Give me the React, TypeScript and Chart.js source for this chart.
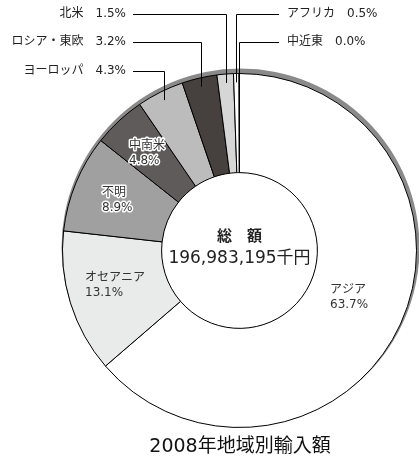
import React, { useEffect, useRef } from "react";
import { Chart, registerables } from "chart.js";

Chart.register(...registerables);

const regions = ["アジア", "オセアニア", "不明", "中南米", "ヨーロッパ", "ロシア・東欧", "北米", "アフリカ", "中近東"];
const shares = [63.7, 13.1, 8.9, 4.8, 4.3, 3.2, 1.5, 0.5, 0.04];
const colors = ["#ffffff", "#e9eaea", "#a0a0a0", "#5f5b5b", "#bcbcbc", "#46413f", "#d6d6d6", "#ffffff", "#000000"];
const totalLabel = "196,983,195千円";
const centerHeading = "総　額";
const chartTitle = "2008年地域別輸入額";

const FONT = '"DejaVu Sans", "Noto Sans CJK JP", sans-serif';

// inside labels: index -> position
const insideLabels = [
  { i: 0, x: 330, y: 290, halo: false },
  { i: 1, x: 85, y: 278, halo: false },
  { i: 2, x: 102, y: 193, halo: true },
  { i: 3, x: 129, y: 146, halo: true },
];
// outside labels with leader lines
const leftCallouts = [
  { i: 6, y: 14 },
  { i: 5, y: 42 },
  { i: 4, y: 71 },
];
const rightCallouts = [
  { i: 7, y: 14 },
  { i: 8, y: 42 },
];

const fmt = (v: number) => v.toFixed(1) + "%";

const decor = {
  id: "decor",
  beforeDatasetsDraw(chart: any) {
    const meta = chart.getDatasetMeta(0);
    const arc = meta.data[0];
    const ctx = chart.ctx;
    ctx.save();
    ctx.fillStyle = "#8a8a8a";
    ctx.beginPath();
    ctx.arc(arc.x + 1, arc.y - 3, arc.outerRadius + 2, 0, Math.PI * 2);
    ctx.fill();
    ctx.fillStyle = "#ffffff";
    ctx.beginPath();
    ctx.arc(arc.x, arc.y, arc.innerRadius, 0, Math.PI * 2);
    ctx.fill();
    ctx.restore();
  },
  afterDatasetsDraw(chart: any) {
    const meta = chart.getDatasetMeta(0);
    const ctx = chart.ctx;
    const a0 = meta.data[0];
    const cx = a0.x, cy = a0.y, R = a0.outerRadius;
    ctx.save();
    // inside labels
    ctx.font = "12px " + FONT;
    ctx.textAlign = "left";
    ctx.textBaseline = "middle";
    ctx.lineJoin = "round";
    insideLabels.forEach((l) => {
      const lines = [regions[l.i], fmt(shares[l.i])];
      lines.forEach((t, k) => {
        const y = l.y + k * 15;
        if (l.halo) {
          ctx.strokeStyle = "#ffffff";
          ctx.lineWidth = 3;
          ctx.strokeText(t, l.x, y);
        }
        ctx.fillStyle = "#333333";
        ctx.fillText(t, l.x, y);
      });
    });
    // center
    ctx.textAlign = "center";
    ctx.fillStyle = "#222222";
    ctx.font = "bold 15px " + FONT;
    ctx.fillText(centerHeading, cx, cy - 13);
    ctx.font = "17px " + FONT;
    ctx.fillText(totalLabel, cx, cy + 8);
    // callouts
    ctx.strokeStyle = "#000000";
    ctx.lineWidth = 1;
    ctx.font = "12px " + FONT;
    const anchor = (i: number) => {
      const el = meta.data[i];
      const mid = (el.startAngle + el.endAngle) / 2;
      const rr = R * 0.95;
      return { x: cx + Math.cos(mid) * rr, y: cy + Math.sin(mid) * rr };
    };
    leftCallouts.forEach((c) => {
      const p = anchor(c.i);
      const lx = Math.round(p.x) + 0.5;
      ctx.beginPath();
      ctx.moveTo(133, c.y + 0.5);
      ctx.lineTo(lx, c.y + 0.5);
      ctx.lineTo(lx, p.y);
      ctx.stroke();
      ctx.textAlign = "right";
      ctx.fillStyle = "#222222";
      ctx.fillText(regions[c.i] + "　" + fmt(shares[c.i]), 126, c.y);
    });
    rightCallouts.forEach((c) => {
      const p = anchor(c.i);
      const lx = Math.round(p.x) + 0.5;
      ctx.beginPath();
      ctx.moveTo(279, c.y + 0.5);
      ctx.lineTo(lx, c.y + 0.5);
      ctx.lineTo(lx, p.y);
      ctx.stroke();
      ctx.textAlign = "left";
      ctx.fillStyle = "#222222";
      ctx.fillText(regions[c.i] + "　" + fmt(shares[c.i]), 287, c.y);
    });
    // title
    ctx.textAlign = "center";
    ctx.fillStyle = "#111111";
    ctx.font = "19px " + FONT;
    ctx.fillText(chartTitle, 240, 447);
    ctx.restore();
  },
};

export default function App() {
  const ref = useRef<HTMLCanvasElement>(null);
  useEffect(() => {
    document.body.style.margin = "0";
    const chart = new Chart(ref.current!, {
      type: "doughnut",
      data: {
        labels: regions,
        datasets: [
          {
            data: shares,
            backgroundColor: colors,
            borderColor: "#000000",
            borderWidth: 1,
          },
        ],
      },
      options: {
        animation: false,
        responsive: false,
        cutout: "44%",
        rotation: 0,
        layout: { padding: { left: 62, right: 2, top: 73, bottom: 29 } },
        plugins: { legend: { display: false }, tooltip: { enabled: false }, title: { display: false } },
      },
      plugins: [decor],
    });
    return () => chart.destroy();
  }, []);
  return (
    <div style={{ width: 419, height: 457, background: "#ffffff" }}>
      <canvas ref={ref} width={419} height={457} style={{ width: 419, height: 457, display: "block" }} />
    </div>
  );
}
